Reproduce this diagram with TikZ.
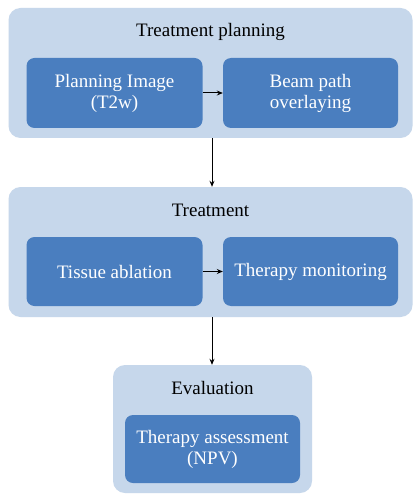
\documentclass[tikz,border=0pt]{standalone}
\usepackage{fontspec}
\setmainfont{Liberation Serif}
\usetikzlibrary{arrows.meta}
\definecolor{outerfill}{HTML}{C6D7EB}
\definecolor{innerfill}{HTML}{4A7EBF}
\tikzset{
  outerbox/.style={draw=none, fill=outerfill, rounded corners=12pt, inner sep=0pt},
  innerbox/.style={draw=none, fill=innerfill, rounded corners=8pt, inner sep=2pt, text=white, align=center, font=\fontsize{19}{21}\selectfont},
  titletext/.style={text=black, font=\fontsize{19}{21}\selectfont, inner sep=0pt},
  conn/.style={-{Stealth[length=6pt,width=5pt]}, line width=1pt, black}
}
\begin{document}
\begin{tikzpicture}[x=1pt,y=-1pt]
\useasboundingbox (0,0) rectangle (416,494);
\fill[white] (0,0) rectangle (416,494);
% group 1
\node[outerbox, minimum width=404pt, minimum height=130pt] (g1) at (210.5,73) {};
\node[titletext] (t1) at (210.5,32) {Treatment planning};
\node[innerbox, minimum width=176pt, minimum height=70pt] (a) at (114.5,93) {Planning Image\\(T2w)};
\node[innerbox, minimum width=175pt, minimum height=70pt] (b) at (310.5,93) {Beam path\\overlaying};
% group 2
\node[outerbox, minimum width=404pt, minimum height=130pt] (g2) at (210.5,252) {};
\node[titletext] (t2) at (210.5,210) {Treatment};
\node[innerbox, minimum width=176pt, minimum height=69pt] (c) at (114.5,271.5) {Tissue ablation};
\node[innerbox, minimum width=175pt, minimum height=69pt] (d) at (310.5,271.5) {Therapy monitoring};
% group 3
\node[outerbox, minimum width=199pt, minimum height=128pt] (g3) at (212.5,429) {};
\node[titletext] (t3) at (212.5,388) {Evaluation};
\node[innerbox, minimum width=175pt, minimum height=68pt] (e) at (212.5,449) {Therapy assessment\\(NPV)};
% connectors
\draw[conn] (a.east) -- (b.west);
\draw[conn] (c.east) -- (d.west);
\draw[conn] (g1.south -| 212,0) -- (g2.north -| 212,0);
\draw[conn] (g2.south -| 212,0) -- (g3.north -| 212,0);
\end{tikzpicture}
\end{document}
